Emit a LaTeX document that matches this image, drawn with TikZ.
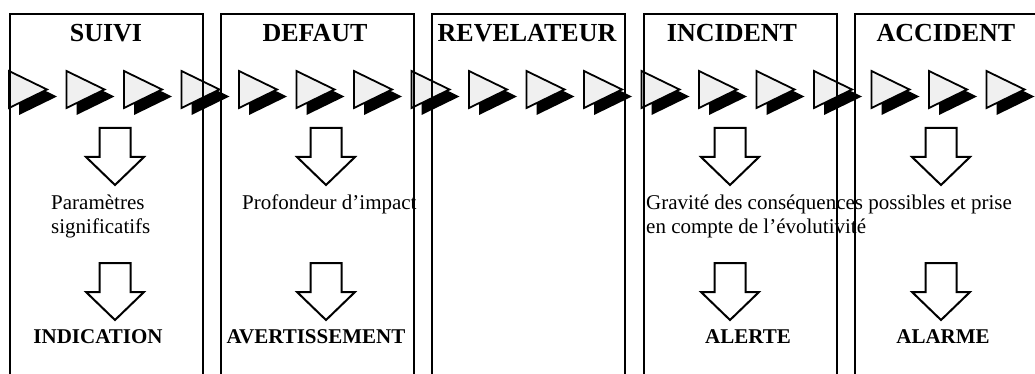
\documentclass[tikz,border=0pt]{standalone}
\usepackage{fontspec}
\setmainfont{Liberation Serif}
\newcommand\mydarr[3]{\draw[darr] (#1-15.5,#2) -- (#1+15.5,#2) -- (#1+15.5,#2+29) -- (#1+29,#2+29) -- (#1,#3) -- (#1-29,#2+29) -- (#1-15.5,#2+29) -- cycle;}
\begin{document}
\begin{tikzpicture}[x=1pt,y=-1pt,
  boxst/.style={draw,line width=2pt,minimum width=193pt,minimum height=380pt,anchor=north west,inner sep=0pt},
  ttl/.style={font=\fontsize{26}{30}\selectfont\bfseries,anchor=base,inner sep=0pt},
  lbl/.style={font=\fontsize{21}{24}\selectfont\bfseries,anchor=base,inner sep=0pt},
  txt/.style={font=\fontsize{21}{24}\selectfont,anchor=base west,inner sep=0pt},
  tri/.style={fill=black!6,draw,line width=1.8pt,line join=miter},
  shd/.style={fill=black},
  darr/.style={draw,line width=2pt,fill=white,line join=miter}]
\useasboundingbox (0,0) rectangle (1035,374);
\clip (0,0) rectangle (1035,374);
\fill[white] (0,0) rectangle (1035,374);
% chain of triangles
\foreach \i in {0,...,17}{
  \pgfmathsetmacro\xx{9+57.5*\i}
  \fill[shd] (\xx+10,78) -- (\xx+10,115) -- (\xx+48,96.5) -- cycle;
  \draw[tri] (\xx,71) -- (\xx,108) -- (\xx+38,89.5) -- cycle;
}
% down arrows
\mydarr{115}{128}{185}
\mydarr{115}{263}{320}
\mydarr{326}{128}{185}
\mydarr{326}{263}{320}
\mydarr{730}{128}{185}
\mydarr{730}{263}{320}
\mydarr{941}{128}{185}
\mydarr{941}{263}{320}
% titles
\node[ttl] (t1) at (106,42) {SUIVI};
\node[ttl] (t2) at (315,42) {DEFAUT};
\node[ttl] (t3) at (527,42) {REVELATEUR};
\node[ttl] (t4) at (732,42) {INCIDENT};
\node[ttl] (t5) at (946,42) {ACCIDENT};
% middle texts
\node[txt] (m1a) at (51,209) {Paramètres};
\node[txt] (m1b) at (51,233) {significatifs};
\node[txt] (m2) at (242,209) {Profondeur d’impact};
\node[txt] (m4a) at (646,209) {Gravité des conséquences possibles et prise};
\node[txt] (m4b) at (646,233) {en compte de l’évolutivité};
% bottom labels
\node[lbl] (l1) at (98,343) {INDICATION};
\node[lbl] (l2) at (316,343) {AVERTISSEMENT};
\node[lbl] (l4) at (748,343) {ALERTE};
\node[lbl] (l5) at (943,343) {ALARME};
% boxes
\node[boxst] (b1) at (9,13) {};
\node[boxst] (b2) at (220,13) {};
\node[boxst] (b3) at (431,13) {};
\node[boxst] (b4) at (643,13) {};
\node[boxst] (b5) at (854,13) {};
\end{tikzpicture}
\end{document}
